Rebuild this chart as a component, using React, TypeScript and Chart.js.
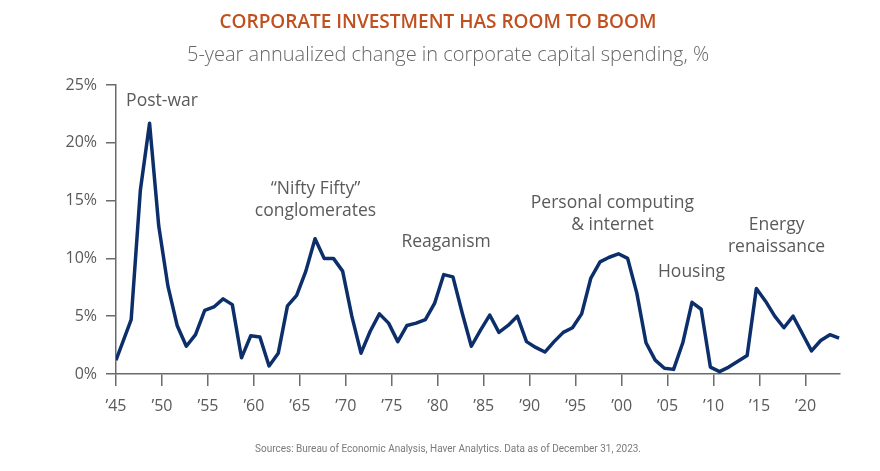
import React, { useEffect, useRef } from 'react';
import { Chart, registerables } from 'chart.js';

Chart.register(...registerables);

const years = [
  1945, 1946, 1947, 1948, 1949, 1950, 1951, 1952, 1953, 1954,
  1955, 1956, 1957, 1958, 1959, 1960, 1961, 1962, 1963, 1964,
  1965, 1966, 1967, 1968, 1969, 1970, 1971, 1972, 1973, 1974,
  1975, 1976, 1977, 1978, 1979, 1980, 1981, 1982, 1983, 1984,
  1985, 1986, 1987, 1988, 1989, 1990, 1991, 1992, 1993, 1994,
  1995, 1996, 1997, 1998, 1999, 2000, 2001, 2002, 2003, 2004,
  2005, 2006, 2007, 2008, 2009, 2010, 2011, 2012, 2013, 2014,
  2015, 2016, 2017, 2018, 2019, 2020, 2021, 2022, 2023,
];

const capexChange = [
  1.2, 4.7, 15.9, 21.7, 12.8, 7.6, 4.2, 2.4, 3.4, 5.5,
  5.8, 6.5, 6.0, 1.4, 3.3, 3.2, 0.7, 1.8, 5.9, 6.8,
  8.9, 11.7, 10.0, 10.0, 8.9, 5.0, 1.8, 3.7, 5.2, 4.4,
  2.8, 4.2, 4.4, 4.7, 6.1, 8.6, 8.4, 5.3, 2.4, 3.8,
  5.1, 3.6, 4.2, 5.0, 2.8, 2.3, 1.9, 2.8, 3.6, 4.0,
  5.2, 8.3, 9.7, 10.1, 10.4, 10.0, 7.0, 2.7, 1.2, 0.5,
  0.4, 2.7, 6.2, 5.6, 0.6, 0.2, 0.6, 1.1, 1.6, 7.4,
  6.3, 5.0, 4.0, 5.0, 3.5, 2.0, 2.9, 3.4, 3.1,
];

const xTickYears = [1945, 1950, 1955, 1960, 1965, 1970, 1975, 1980, 1985, 1990, 1995, 2000, 2005, 2010, 2015, 2020];
const yTickValues = [0, 5, 10, 15, 20, 25];

const titleText = 'CORPORATE INVESTMENT HAS ROOM TO BOOM';
const subtitleText = '5-year annualized change in corporate capital spending, %';
const sourceText = 'Sources: Bureau of Economic Analysis, Haver Analytics. Data as of December 31, 2023.';

const eraLabels = [
  { lines: ['Post-war'], year: 1950, value: 23.6 },
  { lines: ['\u201cNifty Fifty\u201d', 'conglomerates'], year: 1966.7, value: 16.0 },
  { lines: ['Reaganism'], year: 1980.9, value: 11.4 },
  { lines: ['Personal computing', '& internet'], year: 1999.0, value: 14.8 },
  { lines: ['Housing'], year: 2007.6, value: 8.8 },
  { lines: ['Energy', 'renaissance'], year: 2016.85, value: 12.9 },
];

const FONT = '"Open Sans", "DejaVu Sans", sans-serif';
const AXIS_COLOR = '#6b6b6b';
const TEXT_COLOR = '#5a5a5a';
const LINE_COLOR = '#0c2f6b';

const textPlugin = {
  id: 'textPlugin',
  afterDraw(chart: any) {
    const ctx = chart.ctx;
    const xs = chart.scales.x;
    const ys = chart.scales.y;
    ctx.save();
    ctx.textAlign = 'center';
    ctx.textBaseline = 'middle';

    ctx.fillStyle = '#c0501f';
    ctx.font = `600 19px ${FONT}`;
    ctx.fillText(titleText, 438, 23);

    ctx.fillStyle = '#666666';
    ctx.font = `300 20px ${FONT}`;
    ctx.fillText(subtitleText, 448, 55);

    ctx.fillStyle = '#7a7a7a';
    ctx.font = `10px "Roboto", "Liberation Sans Narrow", sans-serif`;
    ctx.fillText(sourceText, 448, 449);

    ctx.fillStyle = TEXT_COLOR;
    ctx.font = `17.5px ${FONT}`;
    const lineGap = 22;
    eraLabels.forEach((lab) => {
      const px = xs.getPixelForValue(lab.year);
      const py = ys.getPixelForValue(lab.value);
      lab.lines.forEach((ln, i) => {
        ctx.fillText(ln, px, py + i * lineGap);
      });
    });
    ctx.restore();
  },
};

export default function App() {
  const canvasRef = useRef<HTMLCanvasElement | null>(null);

  useEffect(() => {
    if (!canvasRef.current) return;
    const points = years.map((yr, i) => ({ x: i === 0 ? yr : yr + 0.65, y: capexChange[i] }));
    const chart = new Chart(canvasRef.current, {
      type: 'line',
      data: {
        datasets: [
          {
            label: 'Corporate capital spending',
            data: points,
            borderColor: LINE_COLOR,
            borderWidth: 3.5,
            borderJoinStyle: 'round',
            pointRadius: 0,
            tension: 0,
            fill: false,
          },
        ],
      },
      options: {
        responsive: false,
        animation: false,
        devicePixelRatio: 1,
        layout: { padding: { top: 85, right: 40, left: 0, bottom: 0 } },
        plugins: {
          legend: { display: false },
          tooltip: { enabled: false },
          title: { display: false },
        },
        scales: {
          x: {
            type: 'linear',
            min: 1945,
            max: 2023.75,
            afterFit: (s: any) => { s.height = 97; },
            afterBuildTicks: (s: any) => { s.ticks = xTickYears.map((v) => ({ value: v })); },
            grid: { display: true, drawOnChartArea: false, drawTicks: true, tickLength: 12, color: AXIS_COLOR, lineWidth: 1.5 },
            border: { display: true, color: AXIS_COLOR, width: 1.5 },
            ticks: {
              color: TEXT_COLOR,
              font: { family: FONT, size: 16 },
              padding: 11,
              maxRotation: 0,
              autoSkip: false,
              callback: (v: any) => '\u2019' + String(v).slice(2),
            },
          },
          y: {
            min: 0,
            max: 25,
            afterFit: (s: any) => { s.width = 116; },
            afterBuildTicks: (s: any) => { s.ticks = yTickValues.map((v) => ({ value: v })); },
            grid: { display: true, drawOnChartArea: false, drawTicks: true, tickLength: 10, color: AXIS_COLOR, lineWidth: 1.5 },
            border: { display: true, color: AXIS_COLOR, width: 1.5 },
            ticks: {
              color: TEXT_COLOR,
              font: { family: FONT, size: 16 },
              padding: 9,
              callback: (v: any) => v + '%',
            },
          },
        },
      },
      plugins: [textPlugin],
    });
    return () => chart.destroy();
  }, []);

  return (
    <div style={{ position: 'absolute', left: 0, top: 0, width: 880, height: 471, background: '#fff' }}>
      <canvas ref={canvasRef} width={880} height={471} />
    </div>
  );
}
